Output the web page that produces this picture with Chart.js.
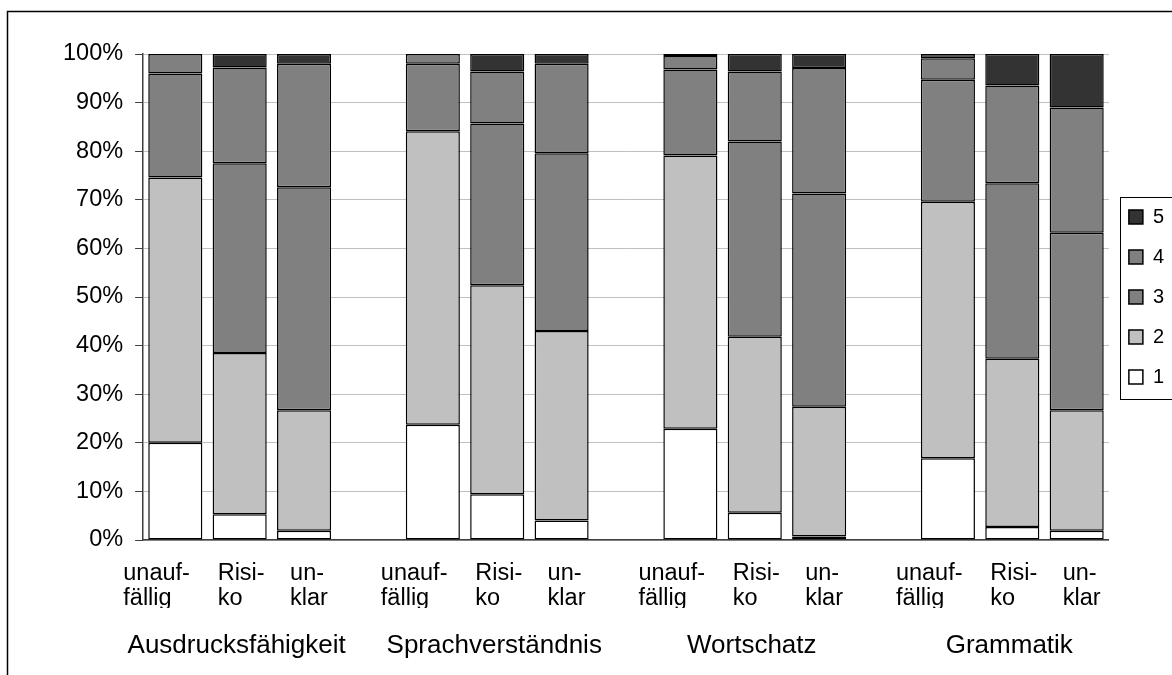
<!DOCTYPE html>
<html>
<head>
<meta charset="utf-8">
<script src="https://cdn.jsdelivr.net/npm/chart.js@4.4.1/dist/chart.umd.min.js"></script>
<style>
  html, body { margin: 0; padding: 0; background: #fff; }
  #wrap { position: relative; width: 1172px; height: 675px; }
</style>
</head>
<body>
<div id="wrap"><canvas id="c" width="1172" height="675"></canvas></div>
<script>
// ---- data ----
const groups = ['Ausdrucksfähigkeit', 'Sprachverständnis', 'Wortschatz', 'Grammatik'];
const subLabels = [['unauf-', 'fällig'], ['Risi-', 'ko'], ['un-', 'klar']];
const seriesNames = ['1', '2', '3', '4', '5'];
const yTicks = [0, 10, 20, 30, 40, 50, 60, 70, 80, 90, 100];

// values in % per bar: group order, within group unauffällig / Risiko / unklar
const s1 = [20.0, 5.3, 1.9, 23.7, 9.4, 4.0, 22.9, 5.6, 0.7, 16.8, 2.7, 1.9];
const s2 = [54.6, 33.2, 24.8, 60.4, 43.0, 39.0, 56.2, 36.2, 26.7, 52.8, 34.6, 24.8];
const s3 = [21.4, 39.0, 45.9, 13.9, 33.3, 36.6, 17.7, 40.2, 43.9, 25.1, 36.1, 36.5];
const s4 = [4.0, 19.7, 25.4, 2.0, 10.7, 18.4, 2.8, 14.4, 25.8, 4.4, 20.1, 25.8];
const s5 = [0.0, 2.8, 2.0, 0.0, 3.6, 2.0, 0.4, 3.6, 2.9, 0.9, 6.5, 11.0];

const colors = ['#ffffff', '#c0c0c0', '#808080', '#808080', '#333333'];
const FONT = '"Liberation Sans", Arial, sans-serif';

// build category slots: 3 bars per group, an empty slot between groups
const slots = [];
const slotOfBar = [];
groups.forEach((g, gi) => {
  if (gi > 0) slots.push('');
  subLabels.forEach((sl) => {
    slotOfBar.push(slots.length);
    slots.push(g + ' ' + sl.join(''));
  });
});
function toSlots(arr) {
  const out = new Array(slots.length).fill(null);
  arr.forEach((v, i) => { out[slotOfBar[i]] = v; });
  return out;
}
const allSeries = [s1, s2, s3, s4, s5];

Chart.defaults.font.family = FONT;
Chart.defaults.color = '#000';

const decor = {
  id: 'decor',
  afterDraw(chart) {
    const ctx = chart.ctx;
    const xs = chart.scales.x;
    ctx.save();
    // outer frame
    ctx.strokeStyle = '#000';
    ctx.lineWidth = 1.5;
    ctx.strokeRect(7.5, 11.5, 1400, 900);
    // legend frame
    const hb = chart.legend.legendHitBoxes;
    if (hb && hb.length) {
      const top = Math.min(...hb.map(h => h.top)) - 10.5;
      const bottom = Math.max(...hb.map(h => h.top + h.height)) + 11.5;
      const left = hb[0].left - 9;
      ctx.lineWidth = 1;
      ctx.strokeRect(Math.round(left) + 0.5, Math.round(top) + 0.5, 200, Math.round(bottom - top));
    }
    // category labels (two lines, left aligned blocks)
    const shift = [-52, -22, -14];
    ctx.fillStyle = '#000';
    ctx.font = '23.5px ' + FONT;
    ctx.textAlign = 'left';
    ctx.textBaseline = 'alphabetic';
    ctx.save();
    ctx.beginPath();
    ctx.rect(0, 541, 1172, 67);
    ctx.clip();
    slotOfBar.forEach((slot, bi) => {
      const cx = xs.getPixelForValue(slot);
      const sl = subLabels[bi % 3];
      ctx.fillText(sl[0], cx + shift[bi % 3], 580);
      ctx.fillText(sl[1], cx + shift[bi % 3], 605);
    });
    ctx.restore();
    // group labels
    ctx.textAlign = 'center';
    ctx.font = '26px ' + FONT;
    groups.forEach((g, gi) => {
      const cx = xs.getPixelForValue(slotOfBar[gi * 3 + 1]);
      ctx.fillText(g, cx - 3, 653);
    });
    ctx.restore();
  }
};

new Chart(document.getElementById('c'), {
  type: 'bar',
  data: {
    labels: slots,
    datasets: allSeries.map((s, i) => ({
      label: seriesNames[i],
      data: toSlots(s),
      backgroundColor: colors[i],
      borderColor: '#000',
      borderWidth: 1.5,
      borderSkipped: false,
      barPercentage: 0.84,
      categoryPercentage: 1.0
    }))
  },
  options: {
    responsive: false,
    animation: false,
    devicePixelRatio: 1,
    layout: { padding: { top: 54, left: 51, right: -2, bottom: 135 } },
    plugins: {
      legend: {
        position: 'right',
        fullSize: false,
        reverse: true,
        labels: {
          boxWidth: 14,
          boxHeight: 14,
          padding: 20,
          color: '#000',
          font: { size: 20, family: FONT }
        }
      },
      tooltip: { enabled: false }
    },
    scales: {
      x: {
        stacked: true,
        grid: { display: false, drawTicks: false },
        border: { display: true, color: '#404040', width: 1.5 },
        ticks: { display: false }
      },
      y: {
        stacked: true,
        min: 0,
        max: 100,
        afterBuildTicks(scale) { scale.ticks = yTicks.map(v => ({ value: v })); },
        ticks: {
          padding: 12,
          color: '#000',
          font: { size: 23.5, family: FONT },
          callback: v => v + '%'
        },
        grid: { color: '#c0c0c0', lineWidth: 1, tickColor: '#404040', tickLength: 8 },
        border: { display: true, color: '#404040', width: 1.5 }
      }
    }
  },
  plugins: [decor]
});
</script>
</body>
</html>
